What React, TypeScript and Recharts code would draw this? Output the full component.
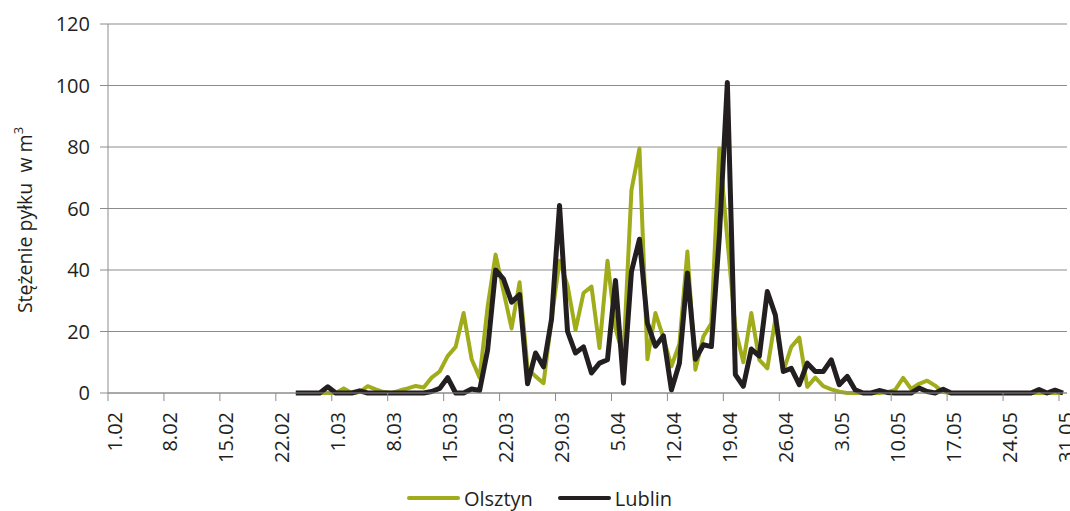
import React from "react";
import { CartesianGrid, Legend, Line, LineChart, XAxis, YAxis } from "recharts";

// calendar: 1.02 – 31.05, one category per day
const MONTHS = [
  { month: "02", days: 28 },
  { month: "03", days: 31 },
  { month: "04", days: 30 },
  { month: "05", days: 31 },
];
const DATES: string[] = MONTHS.flatMap(({ month, days }) =>
  Array.from({ length: days }, (_, d) => `${d + 1}.${month}`)
);

// measurements start on 24.02
const FIRST_DAY = "24.02";

const OLSZTYN = [
  0, 0, 0, 0, 0, 0, 1.5, 0, 0.3, 2.2, 1.2, 0.3, 0, 0.8, 1.5, 2.3, 1.8, 5, 7, 12,
  15, 26, 11, 5, 28, 45, 33, 21, 36, 8, 5.4, 3.2, 24, 43, 35, 20.5, 32.5, 34.6,
  14.6, 43, 21, 12, 66, 79.5, 11, 26, 18, 8.7, 16, 46, 7.6, 18.4, 22.7, 79.5, 50,
  21, 10, 26, 10.8, 8, 24, 7, 15, 18, 2, 5, 2.2, 1.2, 0.4, 0, 0, 0, 0, 0, 0.3, 1,
  4.9, 1.3, 3, 4, 2.4, 0.3, 0, 0, 0, 0, 0, 0, 0, 0, 0, 0, 0, 0, 0, 0, 0,
];

const LUBLIN = [
  0, 0, 0, 0, 2, 0, 0, 0, 0.7, 0, 0, 0, 0, 0, 0, 0, 0, 0.5, 1.5, 5, 0, 0, 1.3,
  0.8, 14, 40, 37, 29.5, 32, 3, 13, 8.5, 24, 61, 20, 13, 15, 6.5, 9.7, 10.8,
  36.6, 3.2, 39.5, 50, 22.7, 15.2, 18.6, 1, 9.7, 39, 11, 15.7, 15.1, 51, 101, 6,
  2.2, 14.3, 12, 33, 25.4, 7, 8, 2.7, 9.7, 7, 7, 10.8, 2.7, 5.4, 1, 0, 0, 0.8,
  0.2, 0, 0, 0, 1.6, 0.5, 0, 1.2, 0, 0, 0, 0, 0, 0, 0, 0, 0, 0, 0, 1.1, 0, 0.9, 0,
];

const Y_TICKS = [0, 20, 40, 60, 80, 100, 120];

const start = DATES.indexOf(FIRST_DAY);
const data = DATES.map((date, i) => ({
  date,
  olsztyn: i >= start ? OLSZTYN[i - start] : null,
  lublin: i >= start ? LUBLIN[i - start] : null,
}));

const W = 1070;
const H = 511;
const MARGIN = { top: 24, right: 3, left: 0, bottom: 0 };
const Y_AXIS_W = 108;
const X_AXIS_H = 92;
const LEGEND_H = 26;
const PLOT_BOTTOM = H - MARGIN.bottom - LEGEND_H - X_AXIS_H;
const BAND = (W - MARGIN.left - MARGIN.right - Y_AXIS_W) / DATES.length;

const FONT = "'Open Sans', sans-serif";
const TEXT = "#231f20";
const GRID = "#8c8c8c";
const GREEN = "#a0ac1a";
const BLACK = "#231f20";

// tick marks sit on day boundaries, labels rotated
function XTick(props: any) {
  const { x, payload } = props;
  const bx = x - BAND / 2;
  return (
    <g>
      <line x1={bx} x2={bx} y1={PLOT_BOTTOM} y2={PLOT_BOTTOM + 8} stroke={GRID} />
      <text
        transform={`translate(${bx + 13.5},${PLOT_BOTTOM + 19}) rotate(-90)`}
        textAnchor="end"
        fontFamily={FONT}
        fontSize={20}
        fill={TEXT}
      >
        {payload.value}
      </text>
    </g>
  );
}

function YTitle() {
  return (
    <text
      transform="translate(32,220) rotate(-90)"
      textAnchor="middle"
      fontFamily={FONT}
      fontSize={19.5}
      fill={TEXT}
      style={{ whiteSpace: "pre" }}
    >
      {"Stężenie pyłku  w m"}
      <tspan fontSize={13} dy={-9}>
        3
      </tspan>
    </text>
  );
}

function LegendContent() {
  const items = [
    { name: "Olsztyn", color: GREEN },
    { name: "Lublin", color: BLACK },
  ];
  return (
    <div
      style={{
        height: LEGEND_H,
        display: "flex",
        justifyContent: "center",
        alignItems: "center",
        gap: 25,
        paddingLeft: 12,
        fontFamily: FONT,
        fontSize: 20,
        color: TEXT,
      }}
    >
      {items.map((it) => (
        <div key={it.name} style={{ display: "flex", alignItems: "center", gap: 4 }}>
          <div style={{ width: 53, height: 4, borderRadius: 2, background: it.color }} />
          <span>{it.name}</span>
        </div>
      ))}
    </div>
  );
}

export default function App() {
  return (
    <div style={{ width: W, height: H, background: "#fff" }}>
      <style>{"body{margin:0}"}</style>
      <LineChart width={W} height={H} data={data} margin={MARGIN}>
        <CartesianGrid vertical={false} stroke={GRID} />
        <XAxis
          dataKey="date"
          interval={6}
          height={X_AXIS_H}
          padding={{ left: BAND / 2, right: BAND / 2 }}
          axisLine={{ stroke: GRID }}
          tickLine={false}
          tick={<XTick />}
        />
        <YAxis
          domain={[0, 120]}
          ticks={Y_TICKS}
          width={Y_AXIS_W}
          tickSize={8}
          tickMargin={10}
          axisLine={{ stroke: GRID }}
          tickLine={{ stroke: GRID }}
          tick={{ fontFamily: FONT, fontSize: 20, fill: TEXT }}
          label={<YTitle />}
        />
        <Legend verticalAlign="bottom" height={LEGEND_H} content={<LegendContent />} />
        <Line
          type="linear"
          dataKey="olsztyn"
          name="Olsztyn"
          stroke={GREEN}
          strokeWidth={4}
          strokeLinejoin="round"
          dot={false}
          isAnimationActive={false}
        />
        <Line
          type="linear"
          dataKey="lublin"
          name="Lublin"
          stroke={BLACK}
          strokeWidth={5}
          strokeLinejoin="round"
          dot={false}
          isAnimationActive={false}
        />
      </LineChart>
    </div>
  );
}
